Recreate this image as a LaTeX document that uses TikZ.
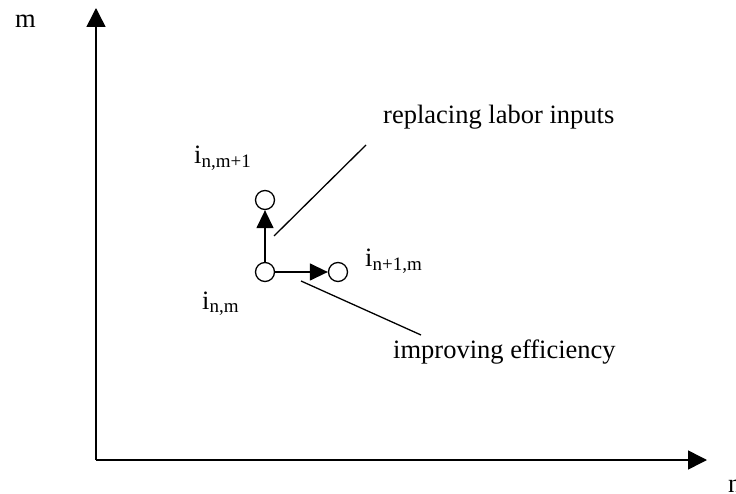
\documentclass[tikz,border=0pt]{standalone}
\usepackage{fontspec}
\setmainfont{Liberation Serif}
\usetikzlibrary{arrows.meta}
\newcommand\sbs[1]{\raisebox{-3.5pt}{\fontsize{19}{19}\selectfont #1}}
\tikzset{
  axisline/.style={line width=1.5pt,-{Triangle[length=19pt,width=19pt]}},
  smallarrow/.style={line width=1.4pt,-{Triangle[length=18pt,width=17pt]}},
  leader/.style={line width=1.3pt},
  pt/.style={circle,draw,line width=1.3pt,minimum size=19pt,inner sep=0pt,fill=white},
  lbl/.style={inner sep=0pt,font=\fontsize{26.5}{30}\selectfont},
}
\begin{document}
\begin{tikzpicture}[x=1pt,y=-1pt]
\useasboundingbox (0,0) rectangle (736,494);
\coordinate (O) at (96,460);
\coordinate (Ytop) at (96,8);
\coordinate (Xend) at (707,460);
\draw[axisline] (O) -- (Ytop);
\draw[axisline] (O) -- (Xend);
\node[lbl,anchor=base west] (mlab) at (15,28) {m};
\node[lbl,anchor=base west] (nlab) at (728,492) {n};

\node[pt] (A) at (265,272) {};
\node[pt] (B) at (265,200) {};
\node[pt] (C) at (338,272) {};
\draw[smallarrow] (A) -- (B);
\draw[smallarrow] (A) -- (C);

\node[lbl,anchor=base west] (lB) at (194,164) {i\sbs{n,m+1}};
\node[lbl,anchor=base west] (lC) at (365,267) {i\sbs{n+1,m}};
\node[lbl,anchor=base west] (lA) at (202,309) {i\sbs{n,m}};

\node[lbl,anchor=base west] (rep) at (383,124) {replacing labor inputs};
\node[lbl,anchor=base west] (imp) at (393,358) {improving efficiency};

\coordinate (r1) at (274,236);
\coordinate (r2) at (366,145);
\coordinate (e1) at (301,281);
\coordinate (e2) at (421,335);
\draw[leader] (r1) -- (r2);
\draw[leader] (e1) -- (e2);
\end{tikzpicture}
\end{document}
